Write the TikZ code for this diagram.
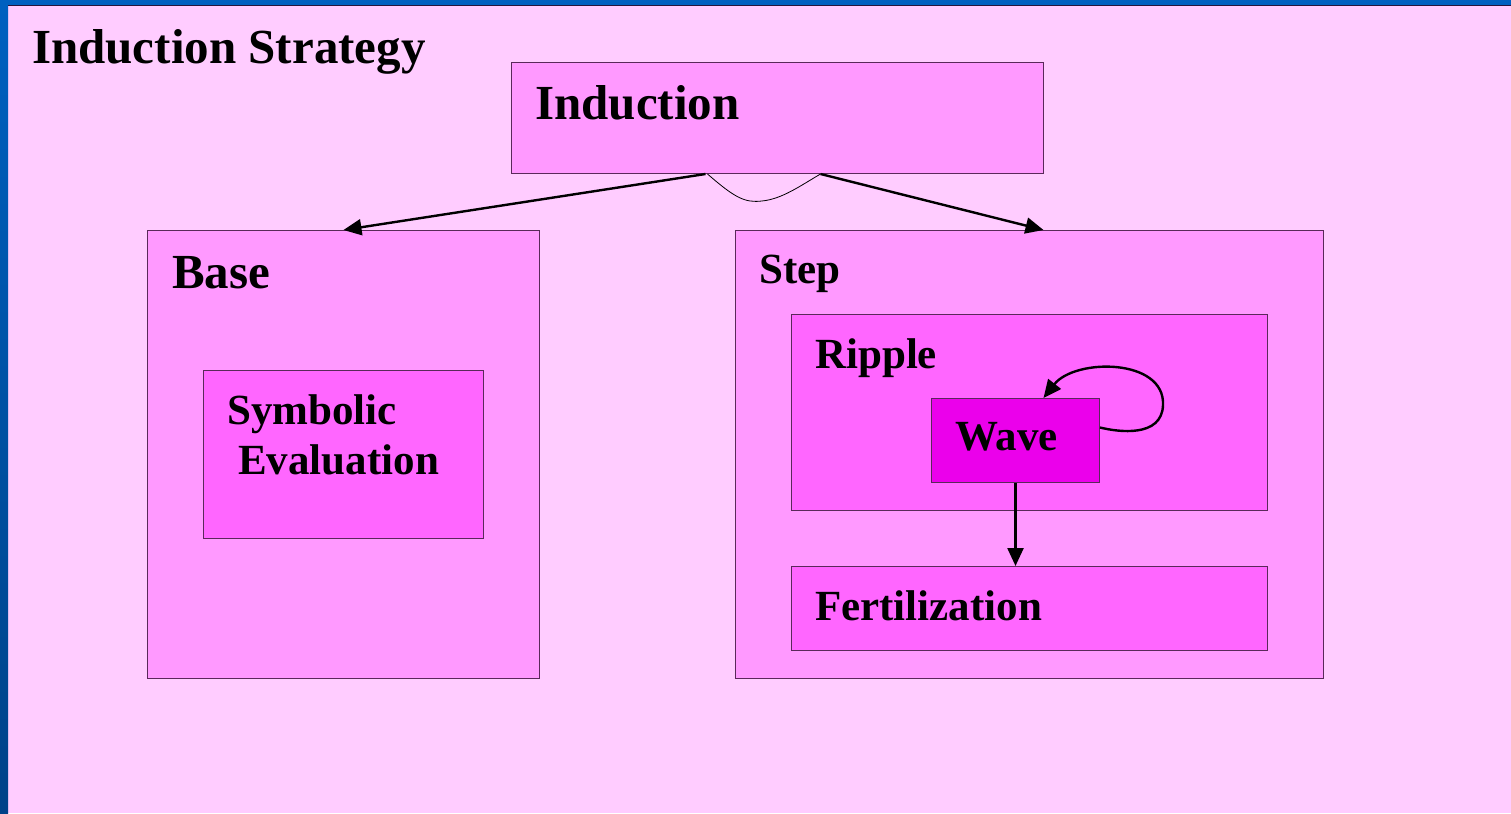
\documentclass[tikz,border=0pt]{standalone}
\usepackage{fontspec}
\setmainfont{Liberation Serif}
\usetikzlibrary{arrows.meta}
\definecolor{bgpink}{RGB}{255,204,255}
\definecolor{boxA}{RGB}{255,153,255}
\definecolor{boxB}{RGB}{255,102,255}
\definecolor{boxC}{RGB}{235,0,235}
\definecolor{edge}{RGB}{90,40,90}
\definecolor{blueA}{RGB}{0,96,192}
\definecolor{blueB}{RGB}{0,66,136}
\begin{document}
\begin{tikzpicture}[x=1pt,y=-1pt,
  box/.style={draw=edge,line width=1pt,anchor=north west,inner sep=0pt},
  big/.style={anchor=base west,inner sep=0pt,font=\bfseries\fontsize{49}{49}\selectfont},
  small/.style={anchor=base west,inner sep=0pt,font=\bfseries\fontsize{43}{43}\selectfont},
  arr/.style={line width=2.4pt,-{Triangle[length=18pt,width=16pt]}}]
\useasboundingbox (0,0) rectangle (1511,813);
% background
\fill[bgpink] (0,0) rectangle (1511,813);
\shade[top color=blueA,bottom color=blueB] (0,0) rectangle (8,813);
\fill[blueA] (0,0) rectangle (1511,5);
\draw[line width=1.2pt,color={rgb,255:red,40;green,20;blue,60}] (8,5.6) -- (1511,5.6);
% title
\node[big] (title) at (32,64) {Induction Strategy};
% boxes
\node[box,fill=boxA,minimum width=532pt,minimum height=111pt] (induction) at (511,62) {};
\node[box,fill=boxA,minimum width=392pt,minimum height=448pt] (base) at (147,230) {};
\node[box,fill=boxB,minimum width=280pt,minimum height=168pt] (symb) at (203,370) {};
\node[box,fill=boxA,minimum width=588pt,minimum height=448pt] (step) at (735,230) {};
\node[box,fill=boxB,minimum width=476pt,minimum height=196pt] (ripple) at (791,314) {};
\node[box,fill=boxC,minimum width=168pt,minimum height=84pt] (wave) at (931,398) {};
\node[box,fill=boxB,minimum width=476pt,minimum height=84pt] (fert) at (791,566) {};
% labels
\node[big] (tinduction) at (535,120) {Induction};
\node[big] (tbase) at (172,288) {Base};
\node[small] (tsym) at (227,424) {Symbolic};
\node[small] (teval) at (238,474) {Evaluation};
\node[small] (tstep) at (759,283) {Step};
\node[small] (tripple) at (815,368) {Ripple};
\node[small] (twave) at (955,450) {Wave};
\node[small] (tfert) at (815,620) {Fertilization};
% connectors
\draw[arr] ([xshift=-72pt]induction.south) -- (base.north);
\draw[arr] ([xshift=43pt]induction.south) -- ([xshift=14pt]step.north);
\draw[line width=0.8pt] ([xshift=-70pt]induction.south) .. controls (735,198) and (745,203) .. (762,201) .. controls (782,199) and (800,186) .. ([xshift=43pt]induction.south);
\draw[arr] ([yshift=13pt]wave.east) .. controls (1118,432) and (1162,438) .. (1163,405) .. controls (1165,358) and (1075,358) .. ([xshift=28pt]wave.north);
\draw[arr] (wave.south) -- (fert.north -| wave.south);
\end{tikzpicture}
\end{document}
